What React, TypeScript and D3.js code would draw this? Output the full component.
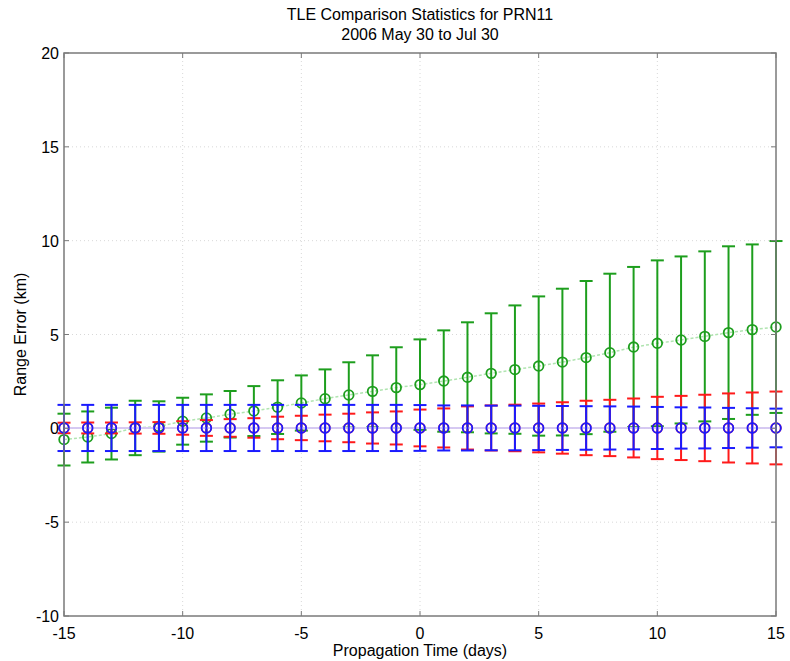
import React from "react";
import * as d3 from "d3";

const days: number[] = d3.range(-15, 16);

const greenMean: number[] = [-0.6, -0.46, -0.28, 0.02, 0.1, 0.38, 0.55, 0.75, 0.92, 1.13, 1.35, 1.58, 1.78, 1.97, 2.17, 2.33, 2.52, 2.72, 2.93, 3.13, 3.32, 3.53, 3.77, 4.03, 4.33, 4.53, 4.71, 4.9, 5.1, 5.26, 5.4];
const greenUpper: number[] = [0.78, 0.9, 1.1, 1.47, 1.44, 1.63, 1.81, 1.99, 2.25, 2.56, 2.82, 3.14, 3.52, 3.89, 4.32, 4.74, 5.22, 5.65, 6.13, 6.55, 7.03, 7.44, 7.85, 8.24, 8.6, 8.95, 9.16, 9.43, 9.7, 9.8, 9.98];

const redMean: number[] = days.map(() => 0.02);
const redStd: number[] = [0.28, 0.29, 0.29, 0.3, 0.31, 0.36, 0.42, 0.47, 0.52, 0.6, 0.65, 0.71, 0.76, 0.83, 0.88, 0.98, 1.04, 1.15, 1.2, 1.24, 1.3, 1.37, 1.45, 1.5, 1.57, 1.66, 1.71, 1.77, 1.84, 1.89, 1.94];

const blueMean: number[] = days.map(() => 0.02);
const blueStd: number[] = [1.23, 1.23, 1.23, 1.23, 1.23, 1.23, 1.23, 1.23, 1.23, 1.23, 1.23, 1.23, 1.23, 1.23, 1.23, 1.22, 1.2, 1.2, 1.19, 1.19, 1.18, 1.17, 1.16, 1.15, 1.14, 1.12, 1.1, 1.09, 1.07, 1.05, 1.03];

const xTicks: number[] = [-15, -10, -5, 0, 5, 10, 15];
const yTicks: number[] = [-10, -5, 0, 5, 10, 15, 20];

const titleLines: string[] = ["TLE Comparison Statistics for PRN11", "2006 May 30 to Jul 30"];
const xLabel = "Propagation Time (days)";
const yLabel = "Range Error (km)";

type Series = { mean: number[]; lo: number[]; hi: number[]; color: string; lineColor: string };

export default function App() {
  const W = 790, H = 661;
  const left = 64, right = 776, top = 53, bottom = 616;
  const x = d3.scaleLinear().domain([-15, 15]).range([left, right]);
  const y = d3.scaleLinear().domain([-10, 20]).range([bottom, top]);
  const font = "'Liberation Sans', Arial, sans-serif";
  const fs = 16;

  const series: Series[] = [
    {
      mean: greenMean,
      lo: greenMean.map((m, i) => m - (greenUpper[i] - m)),
      hi: greenUpper,
      color: "#1d9e1d",
      lineColor: "#b0e4b0",
    },
    {
      mean: redMean,
      lo: redMean.map((m, i) => m - redStd[i]),
      hi: redMean.map((m, i) => m + redStd[i]),
      color: "#ff1a1a",
      lineColor: "#ffb8b8",
    },
    {
      mean: blueMean,
      lo: blueMean.map((m, i) => m - blueStd[i]),
      hi: blueMean.map((m, i) => m + blueStd[i]),
      color: "#1a1aff",
      lineColor: "#c8c8ff",
    },
  ];

  const line = d3
    .line<number>()
    .x((_, i) => x(days[i]))
    .y((d) => y(d));

  const cap = 6.5;
  const tickLen = 5;

  return (
    <svg width={W} height={H} style={{ display: "block", position: "absolute", left: 0, top: 0 }}>
      <rect width={W} height={H} fill="#fff" />
      {/* grid */}
      {xTicks.slice(1, -1).map((t) => (
        <line key={"gx" + t} x1={x(t)} x2={x(t)} y1={top} y2={bottom} stroke="#d8d8d8" strokeWidth={1} strokeDasharray="1,3" />
      ))}
      {yTicks.slice(1, -1).map((t) => (
        <line key={"gy" + t} x1={left} x2={right} y1={y(t)} y2={y(t)} stroke="#d8d8d8" strokeWidth={1} strokeDasharray="1,3" />
      ))}
      {/* series */}
      {series.map((s, si) => (
        <g key={"s" + si}>
          <path d={line(s.mean) || ""} fill="none" stroke={s.lineColor} strokeWidth={1.5} strokeDasharray={si === 0 ? "3,2" : undefined} />
          {days.map((dd, i) => (
            <g key={i} stroke={s.color} strokeWidth={2} fill="none">
              <line x1={x(dd)} x2={x(dd)} y1={y(s.lo[i])} y2={y(s.hi[i])} />
              <line x1={x(dd) - cap} x2={x(dd) + cap} y1={y(s.lo[i])} y2={y(s.lo[i])} />
              <line x1={x(dd) - cap} x2={x(dd) + cap} y1={y(s.hi[i])} y2={y(s.hi[i])} />
              <circle cx={x(dd)} cy={y(s.mean[i])} r={4.8} strokeWidth={1.8} />
            </g>
          ))}
        </g>
      ))}
      {/* axes box */}
      <rect x={left} y={top} width={right - left} height={bottom - top} fill="none" stroke="#7a7a7a" strokeWidth={1.5} />
      {xTicks.map((t) => (
        <g key={"tx" + t} stroke="#7a7a7a" strokeWidth={1}>
          <line x1={x(t)} x2={x(t)} y1={bottom} y2={bottom - tickLen} />
          <line x1={x(t)} x2={x(t)} y1={top} y2={top + tickLen} />
        </g>
      ))}
      {yTicks.map((t) => (
        <g key={"ty" + t} stroke="#7a7a7a" strokeWidth={1}>
          <line x1={left} x2={left + tickLen} y1={y(t)} y2={y(t)} />
          <line x1={right} x2={right - tickLen} y1={y(t)} y2={y(t)} />
        </g>
      ))}
      {/* tick labels */}
      {xTicks.map((t) => (
        <text key={"lx" + t} x={x(t)} y={bottom + 23} textAnchor="middle" fontFamily={font} fontSize={fs} fill="#000">
          {t}
        </text>
      ))}
      {yTicks.map((t) => (
        <text key={"ly" + t} x={left - 5} y={y(t) + 6} textAnchor="end" fontFamily={font} fontSize={fs} fill="#000">
          {t}
        </text>
      ))}
      {/* titles */}
      {titleLines.map((s, i) => (
        <text key={"t" + i} x={(left + right) / 2} y={20 + i * 20} textAnchor="middle" fontFamily={font} fontSize={fs} fill="#000">
          {s}
        </text>
      ))}
      <text x={(left + right) / 2} y={656} textAnchor="middle" fontFamily={font} fontSize={fs} fill="#000">
        {xLabel}
      </text>
      <text transform={`translate(26, ${(top + bottom) / 2}) rotate(-90)`} textAnchor="middle" fontFamily={font} fontSize={fs} fill="#000">
        {yLabel}
      </text>
    </svg>
  );
}
